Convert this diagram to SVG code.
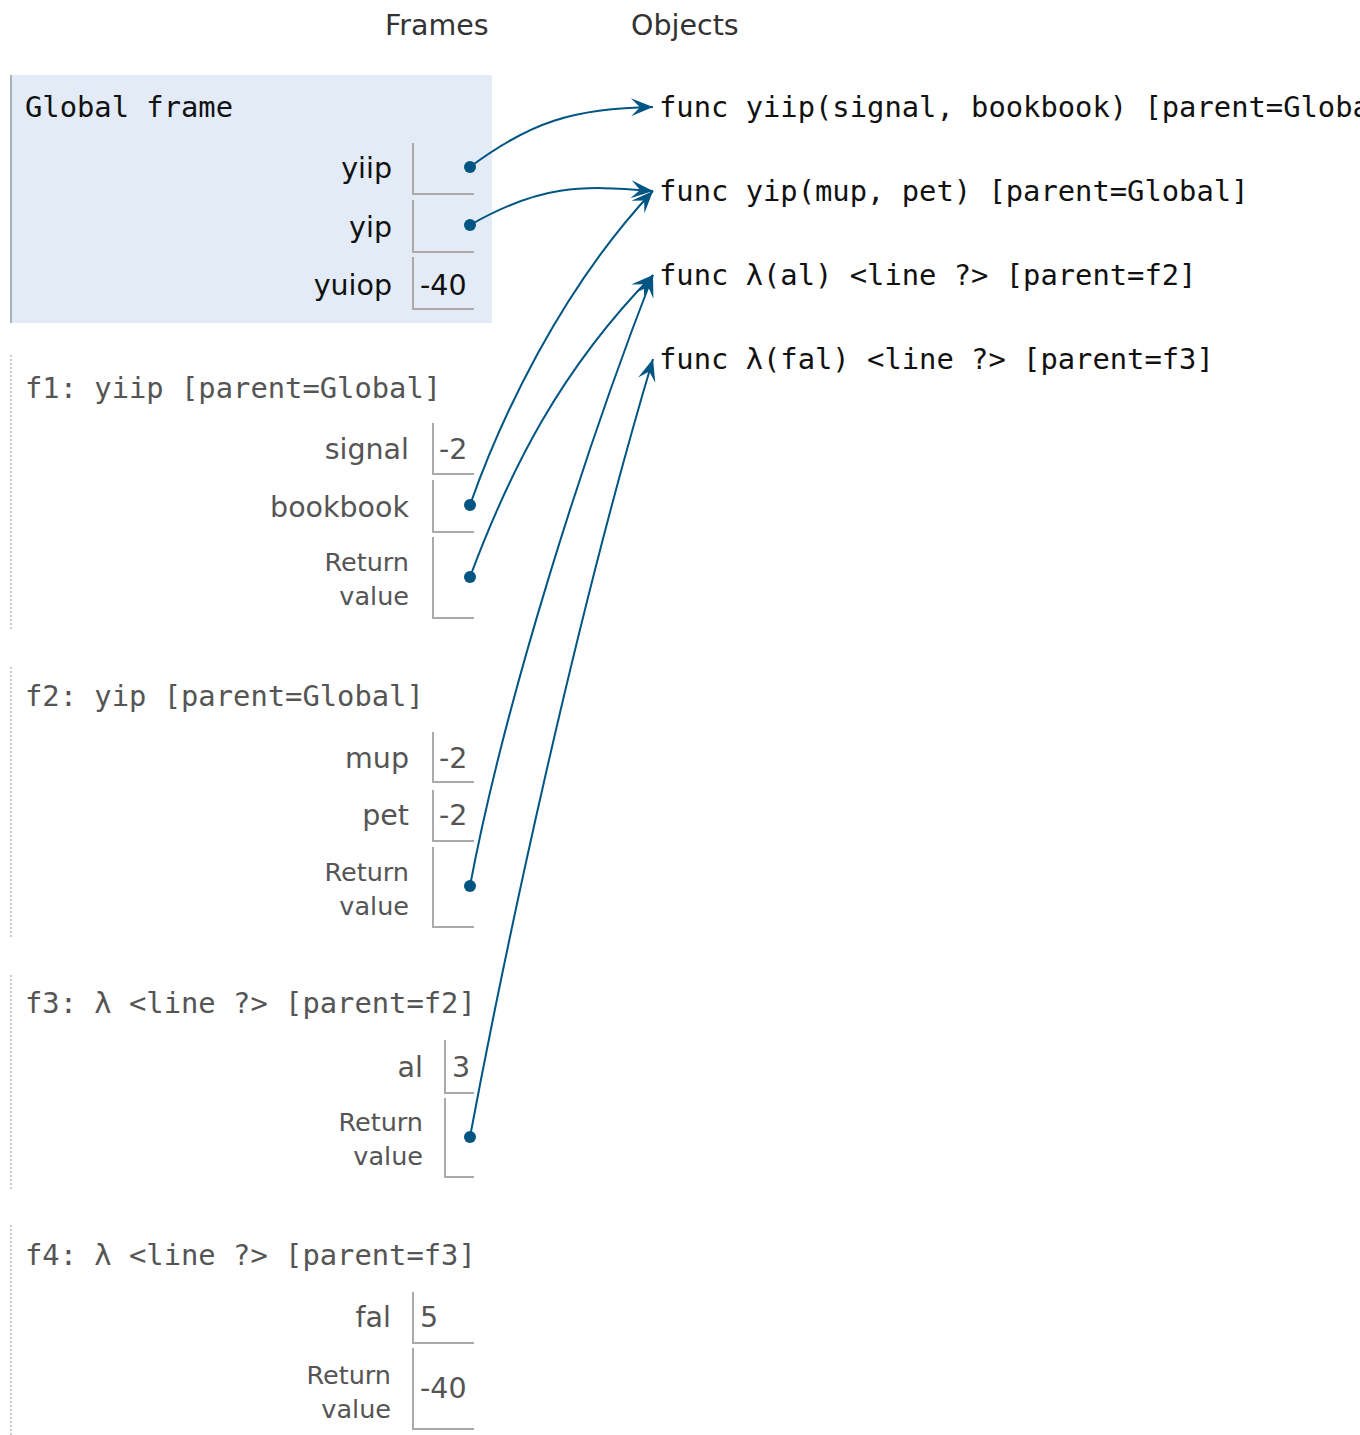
<svg xmlns="http://www.w3.org/2000/svg" width="1360" height="1435" viewBox="0 0 1360 1435">
<style>
.hdr{font-family:"DejaVu Sans","Liberation Sans",sans-serif;font-size:28.5px;fill:#333}
.mono{font-family:"DejaVu Sans Mono","Liberation Mono",monospace;font-size:28.8px}
.gt{fill:#111}
.ft{fill:#555}
.lbl{font-family:"DejaVu Sans","Liberation Sans",sans-serif;font-size:28.5px;text-anchor:end}
.rv{font-family:"DejaVu Sans","Liberation Sans",sans-serif;font-size:25.5px;text-anchor:end}
.val{font-family:"DejaVu Sans","Liberation Sans",sans-serif;font-size:28.5px}
.cell{fill:none;stroke:#aaa;stroke-width:2}
.dotted{stroke:#ccc;stroke-width:2;stroke-dasharray:2 2}
.obj{font-family:"DejaVu Sans Mono","Liberation Mono",monospace;font-size:28.8px;fill:#111}
.conn{fill:none;stroke:#005583;stroke-width:2;marker-end:url(#ah)}
.dot{fill:#005583}
</style>
<defs>
<marker id="ah" viewBox="-24 -11 26 22" markerWidth="26" markerHeight="22" refX="0" refY="0" orient="auto" markerUnits="userSpaceOnUse">
<path d="M0,0 L-22,-9 L-13,0 L-22,9 Z" fill="#005583"/>
</marker>
</defs>
<rect width="1360" height="1435" fill="#fff"/>
<text class="hdr" x="385" y="35">Frames</text>
<text class="hdr" x="631" y="35">Objects</text>

<g id="global-frame">
<rect x="10" y="75" width="482" height="248" fill="#e2ebf6"/>
<line x1="11" y1="75" x2="11" y2="323" stroke="#a6b3b6" stroke-width="2"/>
<text class="mono gt" x="25" y="117">Global frame</text>
<text class="lbl gt" x="392" y="178">yiip</text>
<path class="cell" d="M413,143 V194 H474"/>
<text class="lbl gt" x="392" y="237">yip</text>
<path class="cell" d="M413,200 V252 H474"/>
<text class="lbl gt" x="392" y="295">yuiop</text>
<path class="cell" d="M413,257 V309 H474"/>
<text class="val gt" x="420" y="295">-40</text>
</g>

<g id="f1">
<line class="dotted" x1="11" y1="355" x2="11" y2="629"/>
<text class="mono ft" x="25" y="398">f1: yiip [parent=Global]</text>
<text class="lbl ft" x="409" y="459">signal</text>
<path class="cell" d="M433,423 V474 H474"/>
<text class="val ft" x="439" y="459">-2</text>
<text class="lbl ft" x="409" y="517">bookbook</text>
<path class="cell" d="M433,480 V532 H474"/>
<text class="rv ft" x="409" y="571">Return</text>
<text class="rv ft" x="409" y="605">value</text>
<path class="cell" d="M433,537 V618 H474"/>
</g>

<g id="f2">
<line class="dotted" x1="11" y1="667" x2="11" y2="937"/>
<text class="mono ft" x="25" y="706">f2: yip [parent=Global]</text>
<text class="lbl ft" x="409" y="768">mup</text>
<path class="cell" d="M433,732 V782 H474"/>
<text class="val ft" x="439" y="768">-2</text>
<text class="lbl ft" x="409" y="825">pet</text>
<path class="cell" d="M433,790 V841 H474"/>
<text class="val ft" x="439" y="825">-2</text>
<text class="rv ft" x="409" y="881">Return</text>
<text class="rv ft" x="409" y="915">value</text>
<path class="cell" d="M433,847 V927 H474"/>
</g>

<g id="f3">
<line class="dotted" x1="11" y1="975" x2="11" y2="1190"/>
<text class="mono ft" x="25" y="1013">f3: λ &lt;line ?&gt; [parent=f2]</text>
<text class="lbl ft" x="423" y="1077">al</text>
<path class="cell" d="M445,1040 V1093 H474"/>
<text class="val ft" x="452" y="1077">3</text>
<text class="rv ft" x="423" y="1131">Return</text>
<text class="rv ft" x="423" y="1165">value</text>
<path class="cell" d="M445,1098 V1177 H474"/>
</g>

<g id="f4">
<line class="dotted" x1="11" y1="1225" x2="11" y2="1435"/>
<text class="mono ft" x="25" y="1265">f4: λ &lt;line ?&gt; [parent=f3]</text>
<text class="lbl ft" x="391" y="1327">fal</text>
<path class="cell" d="M413,1292 V1343 H474"/>
<text class="val ft" x="420" y="1327">5</text>
<text class="rv ft" x="391" y="1384">Return</text>
<text class="rv ft" x="391" y="1418">value</text>
<path class="cell" d="M413,1348 V1429 H474"/>
<text class="val ft" x="420" y="1398">-40</text>
</g>

<g id="obj-yiip"><text class="obj" x="659" y="117">func yiip(signal, bookbook) [parent=Global]</text></g>
<g id="obj-yip"><text class="obj" x="659" y="201">func yip(mup, pet) [parent=Global]</text></g>
<g id="obj-lambda-al"><text class="obj" x="659" y="285">func λ(al) &lt;line ?&gt; [parent=f2]</text></g>
<g id="obj-lambda-fal"><text class="obj" x="659" y="369">func λ(fal) &lt;line ?&gt; [parent=f3]</text></g>

<g id="connectors">
<path class="conn" d="M470,167 C530,122 575,108 653,107"/>
<path class="conn" d="M470,225 C540,185 580,185 653,191"/>
<path class="conn" d="M470,505 C500,420 560,290 653,191"/>
<path class="conn" d="M470,577 C510,470 560,370 653,275"/>
<path class="conn" d="M470,886 C505,700 585,450 653,275"/>
<path class="conn" d="M470,1137 C505,950 575,620 653,359"/>
<circle class="dot" cx="470" cy="167" r="6"/>
<circle class="dot" cx="470" cy="225" r="6"/>
<circle class="dot" cx="470" cy="505" r="6"/>
<circle class="dot" cx="470" cy="577" r="6"/>
<circle class="dot" cx="470" cy="886" r="6"/>
<circle class="dot" cx="470" cy="1137" r="6"/>
</g>
</svg>
